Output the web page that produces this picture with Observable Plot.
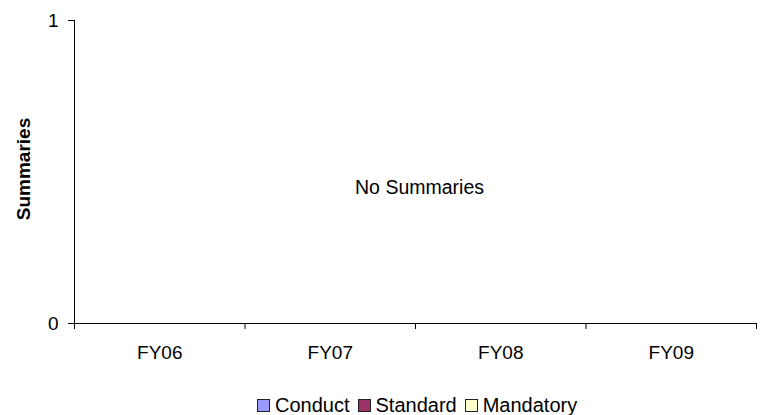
<!DOCTYPE html>
<html>
<head>
<meta charset="utf-8">
<script src="https://cdn.jsdelivr.net/npm/d3@7"></script>
<script src="https://cdn.jsdelivr.net/npm/@observablehq/plot@0.6"></script>
<style>
  html, body { margin: 0; padding: 0; background: #fff; }
  body { width: 761px; height: 415px; overflow: hidden; font-family: "Liberation Sans", Arial, sans-serif; }
  #chart svg { display: block; }
  #legend { display: flex; justify-content: flex-start; align-items: center; height: 30px; padding-left: 257px; font-size: 20px; color: #000; box-sizing: border-box; }
  .item { display: flex; align-items: center; margin-right: 8px; }
  .sw { width: 13px; height: 13px; border: 1px solid #222; margin-right: 5px; box-sizing: border-box; }
</style>
</head>
<body>
<div id="chart"></div>
<div id="legend"></div>
<script>
const categories = ["FY06", "FY07", "FY08", "FY09"];
const conduct = [0, 0, 0, 0];
const standard = [0, 0, 0, 0];
const mandatory = [0, 0, 0, 0];
const seriesNames = ["Conduct", "Standard", "Mandatory"];
const seriesColors = ["#9999FF", "#993366", "#FFFFCC"];
const yTicks = [0, 1];
const message = "No Summaries";
const yLabel = "Summaries";

const rows = [];
categories.forEach((c, i) => {
  rows.push({cat: c, idx: i, series: "Conduct", value: conduct[i]});
  rows.push({cat: c, idx: i, series: "Standard", value: standard[i]});
  rows.push({cat: c, idx: i, series: "Mandatory", value: mandatory[i]});
});

const chart = Plot.plot({
  width: 761,
  height: 390,
  marginLeft: 74,
  marginRight: 5,
  marginTop: 20,
  marginBottom: 67,
  style: {fontFamily: "Liberation Sans, Arial, sans-serif", fontSize: "19px", background: "#fff", color: "#000"},
  x: {domain: [0, categories.length]},
  y: {domain: [0, 1]},
  color: {domain: seriesNames, range: seriesColors},
  marks: [
    Plot.rectY(rows, Plot.stackY({x1: d => d.idx + 0.25, x2: d => d.idx + 0.75, y: "value", fill: "series", stroke: "#000", strokeWidth: 0.5})),
    Plot.axisY({ticks: yTicks, tickSize: 6, tickPadding: 10, tickFormat: d3.format("d"), label: null, fontSize: 19}),
    Plot.ruleX([0], {stroke: "#000"}),
    Plot.ruleY([0], {stroke: "#000"}),
    Plot.axisX({ticks: d3.range(0, categories.length + 1), tickSize: 6, tickFormat: () => "", label: null}),
    Plot.axisX({ticks: categories.map((c, i) => i + 0.5), tickSize: 0, tickPadding: 22, tickFormat: v => categories[Math.floor(v)], label: null, fontSize: 19}),
    Plot.text([message], {frameAnchor: "middle", dx: 4, dy: 16, fontSize: 19.5, fill: "#000"}),
    Plot.text([yLabel], {frameAnchor: "left", textAnchor: "middle", dx: -51, dy: -3, rotate: -90, fontSize: 19, fontWeight: "bold", fill: "#000"})
  ]
});
document.getElementById("chart").appendChild(chart);

const legend = document.getElementById("legend");
seriesNames.forEach((n, i) => {
  const item = document.createElement("span");
  item.className = "item";
  const sw = document.createElement("span");
  sw.className = "sw";
  sw.style.background = seriesColors[i];
  item.appendChild(sw);
  item.appendChild(document.createTextNode(n));
  legend.appendChild(item);
});
</script>
</body>
</html>
